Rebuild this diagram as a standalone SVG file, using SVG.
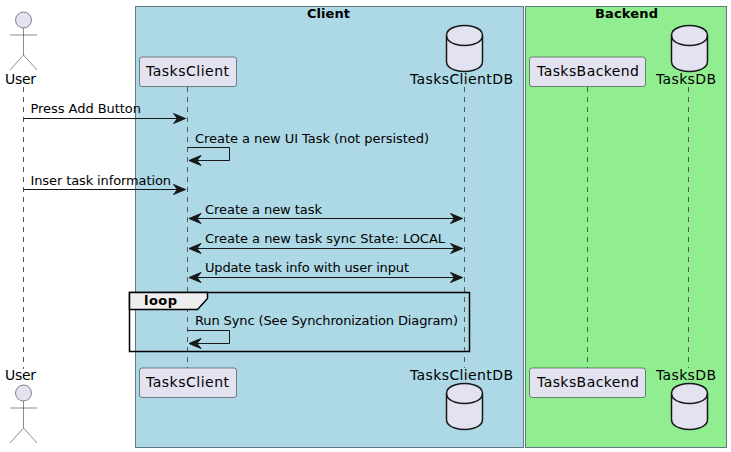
<svg xmlns="http://www.w3.org/2000/svg" width="731" height="452" viewBox="0 0 731 452">
<style>
text{font-family:"DejaVu Sans",sans-serif;fill:#000}
.n{font-size:14px}
.m{font-size:13px}
.b{font-size:13px;font-weight:bold}
.box{stroke:#5f7a80;stroke-width:1}
.life{stroke:#555;stroke-width:1;stroke-dasharray:5 5;fill:none}
.p{fill:#E2E2F0;stroke:#181818;stroke-width:.5}
.db{fill:#E2E2F0;stroke:#181818;stroke-width:1.5}
.c{stroke:#181818;stroke-width:1;fill:none}
</style>
<defs>
<marker id="e" markerUnits="userSpaceOnUse" viewBox="0 0 15 13" refX="13.5" refY="6.5" markerWidth="15" markerHeight="13" orient="auto-start-reverse">
<path d="M1.5,1.5 L13.5,6.5 L1.5,11.5 L5.5,6.5 Z" fill="#181818" stroke="#181818" stroke-width="1"/>
</marker>
<g id="cyl"><path d="M0,10 C0,0 18,0 18,0 C18,0 36,0 36,10 L36,36 C36,46 18,46 18,46 C18,46 0,46 0,36 Z"/><path fill="none" d="M0,10 C0,20 18,20 18,20 C18,20 36,20 36,10"/></g>
<g id="stick"><circle cx="23.5" cy="0" r="8"/><path d="M23.5,8 V35 M10,15 H37 M23.5,35 L10,50 M23.5,35 L37,50" fill="none"/></g>
</defs>
<g id="box-client"><rect class="box" x="135.5" y="6.5" width="388" height="441" fill="#ADD8E6"/><text class="b" x="307" y="18" textLength="43">Client</text></g>
<g id="box-backend"><rect class="box" x="525.5" y="6.5" width="201" height="441" fill="#90EE90"/><text class="b" x="595" y="18" textLength="63">Backend</text></g>
<g id="lifelines">
<path class="life" d="M23.5,87 V369"/>
<path class="life" d="M187.5,87 V368"/>
<path class="life" d="M464.5,87 V368"/>
<path class="life" d="M587.5,87 V368"/>
<path class="life" d="M688.5,87 V368"/>
</g>
<g id="User"><use href="#stick" y="20" fill="#E2E2F0" stroke="#181818" stroke-width=".5"/><text class="n" x="5" y="84" textLength="31">User</text><text class="n" x="5" y="380" textLength="31">User</text><use href="#stick" y="393" fill="#E2E2F0" stroke="#181818" stroke-width=".5"/></g>
<g id="TasksClient"><rect class="p" x="139.5" y="57" width="97" height="29.5" rx="2.5"/><text class="n" x="146" y="76" textLength="83">TasksClient</text><rect class="p" x="139.5" y="368" width="97" height="29.5" rx="2.5"/><text class="n" x="146" y="387" textLength="83">TasksClient</text></g>
<g id="TasksClientDB"><use href="#cyl" class="db" x="446.5" y="25.5"/><text class="n" x="410" y="84" textLength="103">TasksClientDB</text><text class="n" x="410" y="380" textLength="103">TasksClientDB</text><use href="#cyl" class="db" x="446.5" y="383.5"/></g>
<g id="TasksBackend"><rect class="p" x="529.5" y="57" width="116" height="29.5" rx="2.5"/><text class="n" x="537" y="76" textLength="102">TasksBackend</text><rect class="p" x="529.5" y="368" width="116" height="29.5" rx="2.5"/><text class="n" x="537" y="387" textLength="102">TasksBackend</text></g>
<g id="TasksDB"><use href="#cyl" class="db" x="671.5" y="25.5"/><text class="n" x="656" y="84" textLength="60">TasksDB</text><text class="n" x="656" y="380" textLength="60">TasksDB</text><use href="#cyl" class="db" x="671.5" y="383.5"/></g>
<g id="connectors">
<path class="c" marker-end="url(#e)" d="M23.5,118.5 H185.5"/>
<path class="c" marker-end="url(#e)" d="M187.5,147.5 H229.5 V160.5 H189"/>
<path class="c" marker-end="url(#e)" d="M23.5,189.5 H185.5"/>
<path class="c" marker-start="url(#e)" marker-end="url(#e)" d="M189,218.5 H462.5"/>
<path class="c" marker-start="url(#e)" marker-end="url(#e)" d="M189,248.5 H462.5"/>
<path class="c" marker-start="url(#e)" marker-end="url(#e)" d="M189,277.5 H462.5"/>
<path class="c" marker-end="url(#e)" d="M187.5,330.5 H229.5 V343.5 H189"/>
</g>
<g id="labels">
<text class="m" x="30.5" y="113" textLength="110.5">Press Add Button</text>
<text class="m" x="195" y="143" textLength="234">Create a new UI Task (not persisted)</text>
<text class="m" x="30.5" y="185" textLength="140.5">Inser task information</text>
<text class="m" x="205" y="214" textLength="117">Create a new task</text>
<text class="m" x="205" y="243" textLength="240">Create a new task sync State: LOCAL</text>
<text class="m" x="205" y="272" textLength="204">Update task info with user input</text>
<text class="m" x="195" y="325" textLength="263">Run Sync (See Synchronization Diagram)</text>
</g>
<g id="loop">
<rect x="129.5" y="292.5" width="340" height="59" fill="none" stroke="#000" stroke-width="1.5"/>
<path d="M129.5,292.5 H207.5 V298.5 L197.5,309.5 H129.5 Z" fill="#EEEEEE" stroke="#000" stroke-width="1.5"/>
<text class="b" x="144" y="305" textLength="33">loop</text>
</g>
</svg>
